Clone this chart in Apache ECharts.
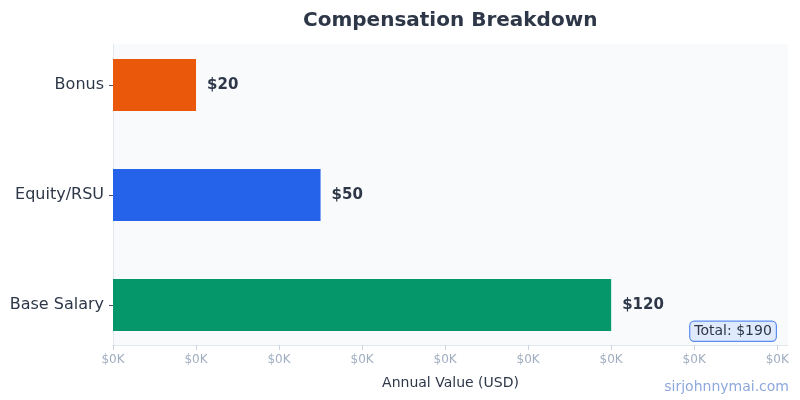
<!DOCTYPE html>
<html>
<head>
<meta charset="utf-8">
<script src="https://cdn.jsdelivr.net/npm/echarts@6/dist/echarts.min.js"></script>
<style>
  html, body { margin: 0; padding: 0; background: #fff; }
  #chart { width: 800px; height: 400px; }
</style>
</head>
<body>
<div id="chart"></div>
<script>
// bottom to top, as echarts draws a horizontal category axis
const categories = ['Base Salary', 'Equity/RSU', 'Bonus']
const values = [120, 50, 20]
const colors = ['#059669', '#2563eb', '#ea580c']
const xTicks = [0, 20, 40, 60, 80, 100, 120, 140, 160]

const total = values.reduce((a, b) => a + b, 0)
const font = 'DejaVu Sans'
const dark = '#2d3748'
const xMax = 162.6

const chart = echarts.init(document.getElementById('chart'))

chart.setOption({
  animation: false,
  textStyle: { fontFamily: font },
  title: {
    text: 'Compensation Breakdown',
    left: 298,
    top: 6,
    textStyle: { fontFamily: font, fontSize: 20, fontWeight: 'bold', color: dark }
  },
  grid: [
    // plot frame with ticks
    { left: 113, right: 12, top: 44, bottom: 55, show: true, backgroundColor: '#f8fafc', borderWidth: 0 },
    // bars, taller so the bands come out at the reference spacing
    { left: 113, right: 12, top: 30, bottom: 40 }
  ],
  xAxis: [
    {
      gridIndex: 0,
      type: 'value',
      min: 0,
      max: xMax,
      interval: xTicks[1] - xTicks[0],
      name: 'Annual Value (USD)',
      nameLocation: 'middle',
      nameGap: 31,
      nameTextStyle: { fontSize: 14, color: dark, fontFamily: font },
      axisLine: { show: true, lineStyle: { color: '#e2e8f0' } },
      axisTick: { show: true, length: 5, lineStyle: { color: '#cbd5e1' } },
      axisLabel: {
        fontSize: 12,
        color: '#a0aec0',
        margin: 9,
        showMaxLabel: false,
        formatter: (v) => '$' + (v / 1000).toFixed(0) + 'K'
      },
      splitLine: { show: false }
    },
    { gridIndex: 1, type: 'value', min: 0, max: xMax, show: false }
  ],
  yAxis: [
    {
      gridIndex: 0,
      type: 'value',
      axisLine: { show: true, lineStyle: { color: '#e2e8f0' } },
      axisTick: { show: false },
      axisLabel: { show: false },
      splitLine: { show: false }
    },
    {
      gridIndex: 1,
      type: 'category',
      data: categories,
      axisLine: { show: false },
      axisTick: { show: true, alignWithLabel: true, length: 4, lineStyle: { color: '#4a5568' } },
      axisLabel: { fontSize: 16, color: dark, margin: 9 },
      splitLine: { show: false }
    }
  ],
  series: [
    {
      type: 'bar',
      xAxisIndex: 1,
      yAxisIndex: 1,
      barWidth: 52,
      data: values.map((v, i) => ({ value: v, itemStyle: { color: colors[i] } })),
      label: {
        show: true,
        position: 'right',
        distance: 11,
        formatter: ({ value }) => '$' + value,
        fontSize: 15,
        fontWeight: 'bold',
        color: dark
      }
    }
  ],
  graphic: [
    {
      type: 'text',
      right: 23,
      bottom: 58,
      style: {
        text: 'Total: $' + total,
        fontSize: 14,
        fontFamily: font,
        fill: dark,
        backgroundColor: '#e0eafd',
        borderColor: '#5b8def',
        borderWidth: 1.2,
        borderRadius: 4,
        padding: [3, 4, 2, 4]
      }
    },
    {
      type: 'text',
      right: 11,
      bottom: 6,
      style: {
        text: 'sirjohnnymai.com',
        fontSize: 14,
        fontFamily: font,
        fill: '#8ea8dd'
      }
    }
  ]
})
</script>
</body>
</html>
